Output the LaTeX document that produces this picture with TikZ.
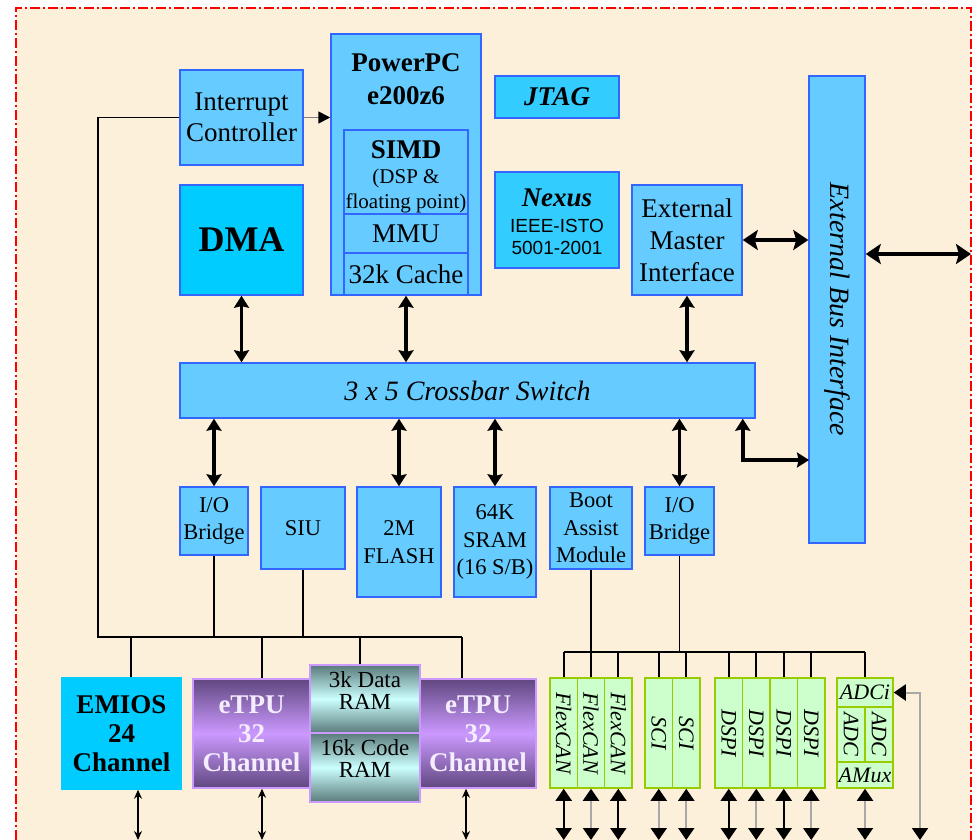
\documentclass[tikz,border=0pt]{standalone}
\usepackage{fontspec}
\setmainfont{Liberation Serif}
\newfontfamily\arialfont{Liberation Sans}
\usetikzlibrary{arrows.meta}

\definecolor{bgbeige}{RGB}{252,240,218}
\definecolor{lblue}{RGB}{102,204,255}
\definecolor{blueedge}{RGB}{51,102,255}
\definecolor{cyanbox}{RGB}{0,204,255}
\definecolor{jtagbox}{RGB}{51,204,255}
\definecolor{grnfill}{RGB}{204,255,204}
\definecolor{grnedge}{RGB}{153,204,0}
\definecolor{tpudark}{RGB}{96,72,128}
\definecolor{tpulight}{RGB}{204,153,255}
\definecolor{tputext}{RGB}{244,236,255}
\definecolor{ramdark}{RGB}{90,122,122}
\definecolor{ramlight}{RGB}{204,255,255}
\definecolor{pingray}{RGB}{168,168,168}

\begin{document}
\begin{tikzpicture}[x=0.5pt, y=-0.5pt]
\tikzset{
  wh/.style 2 args={minimum width=#1*0.5pt, minimum height=#2*0.5pt},
  blk/.style={draw=blueedge, fill=lblue, line width=0.75pt, inner sep=0pt, align=center,
    font=\fontsize{13.5}{15.5}\selectfont},
  per/.style={blk, font=\fontsize{11.25}{13.75}\selectfont},
  lbl/.style={inner sep=0pt, align=center},
  tpu/.style={draw=tpulight, line width=0.75pt, top color=tpudark, bottom color=tpudark,
    middle color=tpulight, inner sep=0pt, align=center, text=tputext,
    font=\fontsize{13.5}{14.5}\selectfont\bfseries},
  ram/.style={draw=tpulight, line width=0.75pt, top color=ramdark, bottom color=ramdark,
    middle color=ramlight, inner sep=0pt},
  ramtxt/.style={lbl, font=\fontsize{11.5}{11}\selectfont},
  grn/.style={draw=grnedge, fill=grnfill, line width=0.75pt, inner sep=0pt,
    font=\fontsize{11}{13}\selectfont\itshape},
  grntxt/.style={lbl, font=\fontsize{11}{13}\selectfont\itshape},
  wire/.style={line width=0.9pt},
  xarr/.style={line width=1.8pt, {Stealth[length=6pt,width=7.5pt,inset=0.8pt]}-{Stealth[length=6pt,width=7.5pt,inset=0.8pt]}},
  bigarr/.style={line width=2pt, {Stealth[length=7.5pt,width=10pt,inset=1.5pt]}-{Stealth[length=7.5pt,width=10pt,inset=1.5pt]}},
  irq/.style={line width=0.8pt, draw=gray, -{Triangle[length=6pt,width=6pt,color=black]}},
  pinthick/.style={line width=1.4pt, {Stealth[length=4.5pt,width=4pt]}-{Stealth[length=4.5pt,width=4pt]}},
  pinblk/.style={line width=1pt, {Triangle[length=6pt,width=8pt,color=black]}-{Triangle[length=6pt,width=8pt,color=black]}},
  pingry/.style={pinblk, draw=pingray}
}
\useasboundingbox (0,0) rectangle (975,840);

% --- background and frame ---
\fill[white] (0,0) rectangle (975,840);
\fill[bgbeige] (16,8) rectangle (971,840);
\draw[red, line width=0.6pt, dash pattern=on 5pt off 1.5pt on 1pt off 1.5pt]
  (16,840) -- (16,8) -- (971,8) -- (971,840);

% --- core ---
\node[blk, wh={123}{95}] (intc) at (241.5,117.5) {Interrupt\\Controller};
\node[blk, fill=cyanbox, wh={123}{110}, font=\fontsize{18}{20}\selectfont\bfseries] (dma) at (241.5,240) {DMA};
\node[blk, wh={150}{261}] (ppc) at (406,164.5) {};
\node[lbl, font=\fontsize{13.5}{16.5}\selectfont\bfseries] (ppct) at (406,79) {PowerPC\\e200z6};
\node[blk, wh={124}{84}] (simd) at (406,172) {};
\node[lbl, font=\fontsize{13.5}{15.5}\selectfont\bfseries] (simdt) at (406,150) {SIMD};
\node[lbl, font=\fontsize{10.5}{12.5}\selectfont] (simds) at (406,191) {(DSP \&\\floating point)};
\node[blk, wh={124}{39}] (mmu) at (406,233.5) {MMU};
\node[blk, wh={124}{42}] (cache) at (406,274) {32k Cache};
\node[blk, fill=jtagbox, wh={124}{42}, font=\fontsize{13.5}{15.5}\selectfont\bfseries\itshape] (jtag) at (557,97) {JTAG};
\node[blk, fill=jtagbox, wh={124}{96}] (nexus) at (557,220) {};
\node[lbl, font=\fontsize{13.5}{15.5}\selectfont\bfseries\itshape] (nexust) at (557,198) {Nexus};
\node[lbl, font=\arialfont\fontsize{9.5}{11}\selectfont] (nexuss) at (557,237) {IEEE-ISTO\\5001-2001};
\node[blk, wh={110}{110}, font=\fontsize{13.5}{16}\selectfont] (emi) at (687,240) {External\\Master\\Interface};
\node[blk, wh={56}{467}] (ebi) at (837,309.5) {};
\node[lbl, rotate=-90, font=\fontsize{14}{16}\selectfont\itshape] (ebit) at (837,309.5) {External Bus Interface};
\node[blk, wh={575}{55}, font=\fontsize{14}{16}\selectfont\itshape] (xbar) at (467.5,390.5) {3 x 5 Crossbar Switch};

% --- slaves ---
\node[per, wh={68}{68}] (iob1) at (214,521) {I/O\\Bridge};
\node[per, wh={84}{82}] (siu) at (303,528) {SIU};
\node[per, wh={84}{110}] (flash) at (399,542) {2M\\FLASH};
\node[per, wh={82}{110}] (sram) at (495,542) {64K\\SRAM\\(16 S/B)};
\node[per, wh={82}{82}] (boot) at (591,528) {Boot\\Assist\\Module};
\node[per, wh={69}{68}] (iob2) at (679.5,521) {I/O\\Bridge};

% --- timers ---
\node[blk, fill=cyanbox, draw=cyanbox, wh={119}{111}, font=\fontsize{13.5}{14.5}\selectfont\bfseries] (emios) at (121.5,733.5) {EMIOS\\24\\Channel};
\node[tpu, wh={117}{109}] (etpua) at (251.5,733.5) {eTPU\\32\\Channel};
\node[tpu, wh={116}{109}] (etpub) at (478,733.5) {eTPU\\32\\Channel};
\node[ram, wh={110}{68}] (dram) at (365,699) {};
\node[ram, wh={110}{69}] (cram) at (365,767.5) {};
\node[ramtxt] (dramt) at (365,691) {3k Data\\RAM};
\node[ramtxt] (cramt) at (365,759) {16k Code\\RAM};

% --- serial and analog ---
\foreach \n/\x/\t in {fa/563.7/FlexCAN, fb/591/FlexCAN, fc/618.3/FlexCAN, sa/658.75/SCI, sb/686.25/SCI,
    da/728.75/DSPI, db/756.25/DSPI, dc/783.75/DSPI, dd/811.25/DSPI}{
  \node[grn, wh={27.5}{110}] (\n) at (\x,733) {};
  \node[grntxt, rotate=-90] (\n-t) at (\n) {\t};
}
\node[grn, wh={56}{29}] (adci) at (865,692.5) {ADCi};
\node[grn, wh={28}{55}] (adca) at (851,734.5) {};
\node[grn, wh={28}{55}] (adcb) at (879,734.5) {};
\node[grntxt, rotate=-90] (adca-t) at (adca) {ADC};
\node[grntxt, rotate=-90] (adcb-t) at (adcb) {ADC};
\node[grn, wh={56}{26}] (amux) at (865,775) {AMux};

% --- crossbar links ---
\draw[xarr] (dma.south) -- (dma.south |- xbar.north);
\draw[xarr] (ppc.south) -- (ppc.south |- xbar.north);
\draw[xarr] (emi.south) -- (emi.south |- xbar.north);
\draw[xarr] (xbar.south -| iob1.north) -- (iob1.north);
\draw[xarr] (xbar.south -| flash.north) -- (flash.north);
\draw[xarr] (xbar.south -| sram.north) -- (sram.north);
\draw[xarr] (xbar.south -| iob2.north) -- (iob2.north);
\coordinate (xe) at (809,460);
\draw[xarr] ([xshift=-6.5pt]xbar.south east) |- (xe);
\draw[bigarr] (emi.east) -- (emi.east -| ebi.west);
\coordinate (ext) at (971,254);
\draw[bigarr] (ext -| ebi.east) -- (ext);
\draw[irq] (intc.east) -- (intc.east -| ppc.west);

% --- peripheral bus, left ---
\coordinate (lbw) at (98,637);
\coordinate (lbe) at (462,637);
\coordinate (ta) at (131,637);
\coordinate (tb) at (262,637);
\coordinate (tc) at (360,637);
\draw[wire] (intc.west) -| (lbw) -- (lbe);
\draw[wire] (iob1.south) -- (iob1.south |- lbw);
\draw[wire] (siu.south) -- (siu.south |- lbw);
\draw[wire] (ta) -- (ta |- emios.north);
\draw[wire] (tb) -- (tb |- etpua.north);
\draw[wire] (tc) -- (tc |- dram.north);
\draw[wire] (lbe) -- (lbe |- etpub.north);

% --- peripheral bus, right ---
\coordinate (gbus) at (0,652);
\draw[wire] (fa.north |- gbus) -- (adci.north |- gbus);
\draw[wire] (boot.south) -- (boot.south |- gbus);
\draw[wire] (iob2.south) -- (iob2.south |- gbus);
\foreach \n in {fa,fb,fc,sa,sb,da,db,dc,dd,adci}
  \draw[wire] (\n.north |- gbus) -- (\n.north);

% --- pins ---
\coordinate (bot) at (0,840);
\coordinate (pa) at (138,840);
\coordinate (pb) at (262,840);
\coordinate (pc) at (466,840);
\draw[pinthick] (pa |- emios.south) -- (pa);
\draw[pinthick] (pb |- etpua.south) -- (pb);
\draw[pinthick] (pc |- etpub.south) -- (pc);
\foreach \n/\s in {fa/pinblk, fb/pingry, fc/pinblk, sa/pingry, sb/pingry,
    da/pinblk, db/pingry, dc/pinblk, dd/pingry, amux/pingry}
  \draw[\s] (\n.south) -- (\n.south |- bot);
\coordinate (ain) at (920,840);
\draw[pingry] (adci.east) -| (ain);
\end{tikzpicture}
\end{document}
